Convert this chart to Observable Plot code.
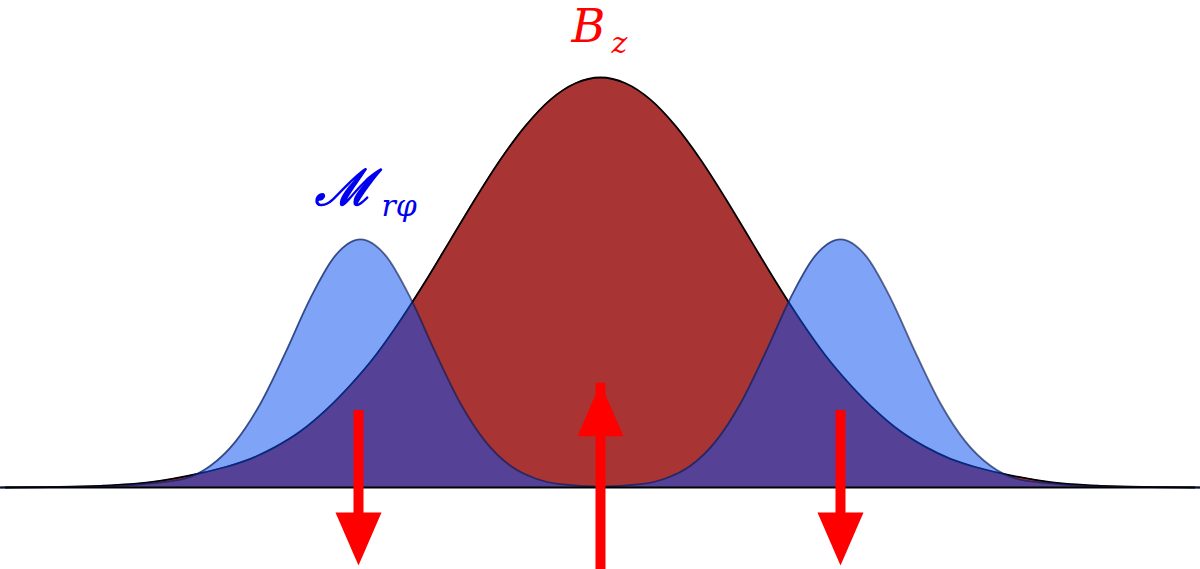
<!DOCTYPE html>
<html><head><meta charset="utf-8">
<script src="https://cdn.jsdelivr.net/npm/d3@7"></script>
<script src="https://cdn.jsdelivr.net/npm/@observablehq/plot@0.6"></script>
<style>body{margin:0;background:#fff;} #chart svg{display:block}</style>
</head><body><div id="chart"></div>
<script>
// Red B_z profile (x in units of 100px from centre, height normalised to peak)
const bzX = [-6,-5.5,-5,-4.5,-4,-3.75,-3.5,-3.25,-3,-2.75,-2.5,-2.25,-2,-1.75,-1.5,-1.25,-1,-0.75,-0.5,-0.25,0,0.25,0.5,0.75,1,1.25,1.5,1.75,2,2.25,2.5,2.75,3,3.25,3.5,3.75,4,4.5,5,5.5,6];
const bzY = [0,0.001,0.004,0.013,0.035,0.050,0.070,0.099,0.137,0.188,0.250,0.322,0.408,0.503,0.604,0.705,0.800,0.882,0.946,0.986,1.000,0.986,0.946,0.882,0.800,0.705,0.604,0.503,0.408,0.322,0.250,0.188,0.137,0.099,0.070,0.050,0.035,0.013,0.004,0.001,0];
// Blue M_rphi profile (two bumps)
const mX = [-6,-5,-4.5,-4.15,-3.9,-3.65,-3.4,-3.15,-2.9,-2.65,-2.4,-2.15,-1.9,-1.65,-1.4,-1.15,-0.9,-0.65,-0.4,0,0.4,0.65,0.9,1.15,1.4,1.65,1.9,2.15,2.4,2.65,2.9,3.15,3.4,3.65,3.9,4.15,4.5,5,6];
const mY = [0,0.002,0.010,0.022,0.053,0.112,0.205,0.329,0.462,0.566,0.605,0.566,0.462,0.329,0.205,0.112,0.053,0.022,0.008,0.002,0.008,0.022,0.053,0.112,0.205,0.329,0.462,0.566,0.605,0.566,0.462,0.329,0.205,0.112,0.053,0.022,0.010,0.002,0];
// Arrows
const arrowX = [-2.42, 0, 2.4];
const arrowTail = [0.188, -0.19, 0.188];
const arrowTip = [-0.19, 0.254, -0.19];
const arrowDir = ["down", "up", "down"];
// Labels
const labelMain = ["B", "ℳ"];
const labelSub = ["z", "rφ"];
const labelX = [-0.29, -2.86];
const labelY = [1.087, 0.69];
const subX = [0.11, -2.19];
const subY = [1.059, 0.663];
const labelColor = ["#ff0000", "#0000ee"];

const bz = bzX.map((x, i) => ({x, y: bzY[i]}));
const mr = mX.map((x, i) => ({x, y: mY[i]}));
const arrows = arrowX.map((x, i) => ({x, tail: arrowTail[i], tip: arrowTip[i], dir: arrowDir[i]}));
const labels = labelMain.map((t, i) => ({t, sub: labelSub[i], x: labelX[i], y: labelY[i], sx: subX[i], sy: subY[i], c: labelColor[i]}));

const triDown = {draw(ctx, size) { const r = Math.sqrt(size / Math.PI); ctx.moveTo(0, 0); ctx.lineTo(-r, -2.3 * r); ctx.lineTo(r, -2.3 * r); ctx.closePath(); }};
const triUp = {draw(ctx, size) { const r = Math.sqrt(size / Math.PI); ctx.moveTo(0, 0); ctx.lineTo(-r, 2.3 * r); ctx.lineTo(r, 2.3 * r); ctx.closePath(); }};

const down = arrows.filter(d => d.dir === "down");
const up = arrows.filter(d => d.dir === "up");
const serif = "'DejaVu Serif', 'Liberation Serif', serif";

const chart = Plot.plot({
  width: 1200, height: 569,
  margin: 0,
  x: {domain: [-6, 6], axis: null},
  y: {domain: [-0.2, 1.1878], axis: null},
  style: {background: "#fff", overflow: "visible"},
  marks: [
    Plot.areaY(bz, {x: "x", y: "y", fill: "#a83434", curve: "monotone-x"}),
    Plot.lineY(bz, {x: "x", y: "y", stroke: "#000", strokeWidth: 1.8, curve: "monotone-x"}),
    Plot.areaY(mr, {x: "x", y: "y", fill: "#094ff0", fillOpacity: 0.52, curve: "monotone-x"}),
    Plot.lineY(mr, {x: "x", y: "y", stroke: "#0a1a50", strokeOpacity: 0.65, strokeWidth: 1.8, curve: "monotone-x"}),
    Plot.ruleY([0], {x1: -5.95, x2: 5.95, stroke: "#000", strokeWidth: 2.2}),
    Plot.ruleX(down, {x: "x", y1: "tail", y2: "tip", stroke: "#ff0000", strokeWidth: 10, insetBottom: 50}),
    Plot.ruleX(up, {x: "x", y1: "tail", y2: "tip", stroke: "#ff0000", strokeWidth: 10, insetTop: 50}),
    Plot.dot(down, {x: "x", y: "tip", r: 23, symbol: triDown, fill: "#ff0000", stroke: null}),
    Plot.dot(up, {x: "x", y: "tip", r: 23, symbol: triUp, fill: "#ff0000", stroke: null}),
    Plot.text(labels.slice(0, 1), {x: "x", y: "y", text: "t", fill: "c", textAnchor: "start", lineAnchor: "bottom", fontSize: 46, fontStyle: "italic", fontFamily: serif}),
    Plot.text(labels.slice(1), {x: "x", y: "y", text: "t", fill: "c", stroke: "c", strokeWidth: 1.6, textAnchor: "start", lineAnchor: "bottom", fontSize: 50, fontStyle: "italic", fontFamily: "'Liberation Serif', serif"}),
    Plot.text(labels, {x: "sx", y: "sy", text: "sub", fill: "c", textAnchor: "start", lineAnchor: "bottom", fontSize: 30, fontStyle: "italic", fontFamily: serif})
  ]
});
document.getElementById("chart").appendChild(chart);
</script>
</body></html>
